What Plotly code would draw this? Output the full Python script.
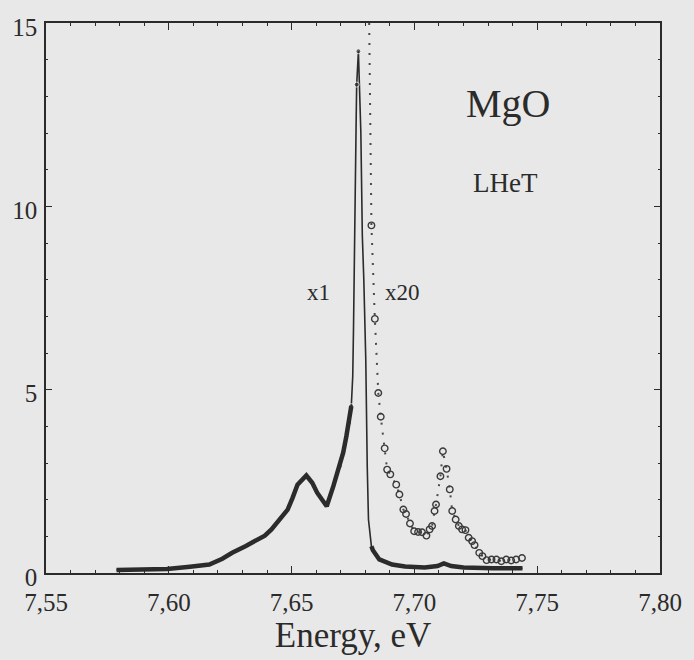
import numpy as np
import plotly.graph_objects as go

# x1 spectrum (energy in eV, intensity)
x1_energy = [7.5787, 7.5886, 7.5993, 7.6086, 7.6125, 7.6165, 7.6218, 7.6258, 7.6312, 7.6365,
             7.6391, 7.6418, 7.6451, 7.6484, 7.6504, 7.6524, 7.6560, 7.6584, 7.6604, 7.6625,
             7.6643, 7.6670, 7.6696, 7.6710, 7.6723, 7.6734, 7.6743, 7.6749, 7.6752, 7.6754,
             7.6758, 7.6763, 7.6765, 7.6772, 7.6782, 7.6788, 7.6794, 7.6802, 7.6808, 7.6813,
             7.6825, 7.6831, 7.6857, 7.6909, 7.6962, 7.7042, 7.7094, 7.7120, 7.7150, 7.7200,
             7.7320, 7.7440]
x1_intensity = [0.08, 0.10, 0.11, 0.17, 0.20, 0.23, 0.39, 0.55, 0.73, 0.93,
                1.02, 1.19, 1.46, 1.73, 2.05, 2.41, 2.66, 2.46, 2.19, 1.98,
                1.82, 2.37, 2.91, 3.28, 3.73, 4.10, 4.55, 5.37, 6.64, 8.00,
                9.10, 12.40, 13.32, 14.23, 12.00, 9.20, 8.00, 5.82, 2.91, 1.46,
                0.73, 0.62, 0.37, 0.23, 0.18, 0.15, 0.19, 0.26, 0.19, 0.15,
                0.13, 0.13]

# x20 magnified spectrum
x20_energy = [7.6811, 7.6825, 7.6839, 7.6853, 7.6863, 7.6879, 7.6889, 7.6902, 7.6926, 7.6939,
              7.6955, 7.6966, 7.6982, 7.6999, 7.7015, 7.7031, 7.7049, 7.7062, 7.7072, 7.7082,
              7.7088, 7.7106, 7.7116, 7.7131, 7.7144, 7.7154, 7.7168, 7.7181, 7.7194, 7.7208,
              7.7221, 7.7235, 7.7245, 7.7264, 7.7277, 7.7294, 7.7314, 7.7334, 7.7354, 7.7374,
              7.7394, 7.7414, 7.7438]
x20_intensity = [18.0, 9.48, 6.93, 4.91, 4.26, 3.40, 2.82, 2.69, 2.41, 2.14,
                 1.73, 1.61, 1.35, 1.14, 1.12, 1.11, 1.02, 1.19, 1.28, 1.69,
                 1.87, 2.64, 3.32, 2.84, 2.28, 1.69, 1.46, 1.28, 1.19, 1.17,
                 0.96, 0.87, 0.76, 0.55, 0.46, 0.35, 0.37, 0.37, 0.32, 0.37,
                 0.34, 0.37, 0.41]

x_tick_vals = [7.55, 7.60, 7.65, 7.70, 7.75, 7.80]
x_tick_text = ["7,55", "7,60", "7,65", "7,70", "7,75", "7,80"]
y_tick_vals = [0, 5, 10, 15]
y_tick_text = ["0", "5", "10", "15"]

INK = "#2b2b2b"
BG = "#e8e8e8"
FONT = "Liberation Serif, Times New Roman, serif"

e1 = np.array(x1_energy)
i1 = np.array(x1_intensity)
thick = np.where((e1 > 7.6745) & (e1 < 7.6824), np.nan, i1)
# beaded markers only on the rising shoulder and the peak top
msize = np.where(((e1 >= 7.665) & (e1 <= 7.6745)) | (i1 > 13), 5, 0)

fig = go.Figure()
# thin line through all points
fig.add_trace(go.Scatter(x=e1, y=i1, mode="lines+markers",
                         line=dict(color=INK, width=1.6),
                         marker=dict(color=INK, size=msize),
                         showlegend=False, hoverinfo="skip"))
# thick band in the broad parts of the x1 curve
fig.add_trace(go.Scatter(x=e1, y=thick, mode="lines", connectgaps=False,
                         line=dict(color=INK, width=4.5),
                         showlegend=False, hoverinfo="skip"))
# x20 curve: dotted line with open circles
fig.add_trace(go.Scatter(x=x20_energy, y=x20_intensity, mode="lines+markers",
                         line=dict(color="#4a4a4a", width=2, dash="2px,8px"),
                         marker=dict(symbol="circle-open", size=6.5, color="#3a3a3a",
                                     line=dict(width=1.4, color="#3a3a3a")),
                         showlegend=False, hoverinfo="skip"))

annots = [
    dict(x=7.7383, y=12.8, text="MgO", size=40),
    dict(x=7.7370, y=10.65, text="LHeT", size=27),
    dict(x=7.6610, y=7.65, text="x1", size=23),
    dict(x=7.6953, y=7.65, text="x20", size=23),
]
for a in annots:
    fig.add_annotation(x=a["x"], y=a["y"], xref="x", yref="y", text=a["text"],
                       showarrow=False, font=dict(family=FONT, size=a["size"], color=INK),
                       xanchor="center", yanchor="middle")

fig.update_xaxes(range=[7.55, 7.80], tickvals=x_tick_vals, ticktext=x_tick_text,
                 ticks="inside", ticklen=7, tickwidth=1.3, tickcolor=INK,
                 minor=dict(ticks="inside", ticklen=3, dtick=0.01, tickcolor=INK, tickwidth=1),
                 showline=True, linecolor=INK, linewidth=1.6, mirror="ticks",
                 showgrid=False, zeroline=False, ticklabelstandoff=6,
                 tickfont=dict(family=FONT, size=25, color=INK),
                 title=dict(text="Energy, eV", font=dict(family=FONT, size=35, color=INK),
                            standoff=4))
fig.update_yaxes(range=[0, 15], tickvals=y_tick_vals, ticktext=y_tick_text,
                 ticks="inside", ticklen=6, tickwidth=1.3, tickcolor=INK,
                 minor=dict(ticks="inside", ticklen=2, dtick=1, tickcolor=INK, tickwidth=1),
                 showline=True, linecolor=INK, linewidth=1.6, mirror="ticks",
                 showgrid=False, zeroline=False, ticklabelshift=4, ticklabelstandoff=2,
                 tickfont=dict(family=FONT, size=25, color=INK))

fig.update_layout(width=694, height=660,
                  margin=dict(l=43, r=25, t=23, b=87),
                  paper_bgcolor=BG, plot_bgcolor=BG,
                  showlegend=False)

fig.write_html("out.html")
